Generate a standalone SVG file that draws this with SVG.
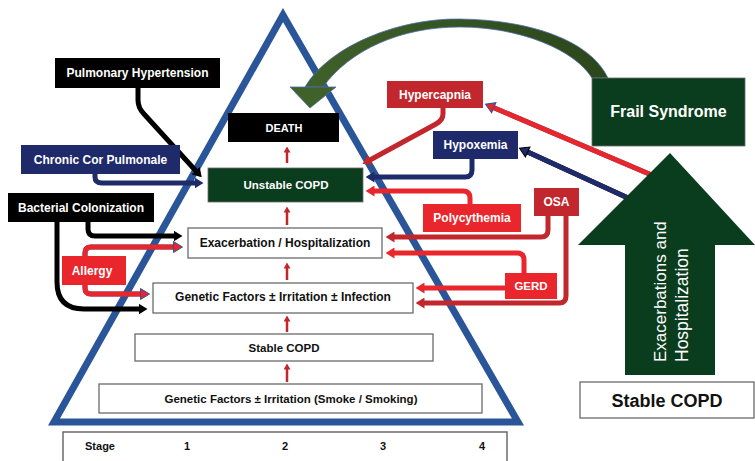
<svg xmlns="http://www.w3.org/2000/svg" width="755" height="461" viewBox="0 0 755 461">
<defs>
<style>
.lbl{font-family:"Liberation Sans",Arial,sans-serif;font-weight:bold;font-size:12px;text-anchor:middle;fill:#fff}
.dk{fill:#111}
.box{fill:#fff;stroke:#6b6b6b;stroke-width:1.3}
.con{fill:none;stroke-width:5;stroke-linejoin:round}
.thin{fill:none;stroke:#c1272d;stroke-width:2.5}
</style>
<linearGradient id="arcg" x1="0" y1="0" x2="1" y2="0">
<stop offset="0" stop-color="#40612a"/>
<stop offset="1" stop-color="#2c461b"/>
</linearGradient>
<marker id="ah-black" viewBox="0 0 9 11" refX="0.5" refY="5.5" markerWidth="9" markerHeight="11" orient="auto" markerUnits="userSpaceOnUse"><path d="M0,0 L9,5.5 L0,11 Z" fill="#000"/></marker>
<marker id="ah-navy" viewBox="0 0 9 11" refX="0.5" refY="5.5" markerWidth="9" markerHeight="11" orient="auto" markerUnits="userSpaceOnUse"><path d="M0,0 L9,5.5 L0,11 Z" fill="#1f2a6b"/></marker>
<marker id="ah-navyk" viewBox="-1 -1 11 13" refX="0.5" refY="5.5" markerWidth="11" markerHeight="13" orient="auto" markerUnits="userSpaceOnUse"><path d="M0,0 L9,5.5 L0,11 Z" fill="#1f2a6b" stroke="#000" stroke-width="1"/></marker>
<marker id="ah-dred" viewBox="0 0 9 11" refX="0.5" refY="5.5" markerWidth="9" markerHeight="11" orient="auto" markerUnits="userSpaceOnUse"><path d="M0,0 L9,5.5 L0,11 Z" fill="#c1272d"/></marker>
<marker id="ah-red" viewBox="0 0 9 11" refX="0.5" refY="5.5" markerWidth="9" markerHeight="11" orient="auto" markerUnits="userSpaceOnUse"><path d="M0,0 L9,5.5 L0,11 Z" fill="#e8262b"/></marker>
<marker id="ah-redb" viewBox="-1 -1 11 13" refX="0.5" refY="5.5" markerWidth="11" markerHeight="13" orient="auto" markerUnits="userSpaceOnUse"><path d="M0,0 L9,5.5 L0,11 Z" fill="#e8262b" stroke="#2a5699" stroke-width="1"/></marker>
<marker id="ah-small" viewBox="0 0 6 7" refX="0.5" refY="3.5" markerWidth="6" markerHeight="7" orient="auto" markerUnits="userSpaceOnUse"><path d="M0,0 L6,3.5 L0,7 Z" fill="#c1272d"/></marker>
</defs>

<g id="pyramid">
<polygon points="283,15 54,422 518,422" fill="none" stroke="#2a5699" stroke-width="7"/>
</g>

<g id="stage-table">
<rect x="63" y="432" width="444" height="40" fill="#fff" stroke="#6b6b6b" stroke-width="1.5"/>
<text class="lbl dk" x="100" y="450" style="font-size:11px">Stage</text>
<text class="lbl dk" x="187" y="450" style="font-size:11px">1</text>
<text class="lbl dk" x="285" y="450" style="font-size:11px">2</text>
<text class="lbl dk" x="383" y="450" style="font-size:11px">3</text>
<text class="lbl dk" x="482" y="450" style="font-size:11px">4</text>
</g>

<g id="frail-arc">
<path d="M305 87 C330 45 400 18 460 19 C530 20 590 40 608 78 L592 78 C575 50 520 27 460 27 C400 27 350 50 323 87 Z" fill="url(#arcg)" stroke="#4a6fb0" stroke-width="0.8"/>
<polygon points="290,87 336,87 310,108" fill="#40612a" stroke="#4a6fb0" stroke-width="0.8"/>
</g>

<g id="connectors">
<path class="con" d="M138 88 V100 Q138 108 144 114 L196 171" stroke="#000" marker-end="url(#ah-black)"/>
<path class="con" d="M95 174 V177 Q95 183 102 183 H195" stroke="#1f2a6b" marker-end="url(#ah-navy)"/>
<path class="con" d="M88 222 V229 Q88 236 95 236 H174" stroke="#000" marker-end="url(#ah-black)"/>
<path class="con" d="M57 222 V282 Q57 309 84 309 H139" stroke="#000" marker-end="url(#ah-black)"/>
<path class="con" d="M85 256 V253 Q85 247 91 247 H174" stroke="#2a5699" stroke-width="6.5"/>
<path class="con" d="M85 256 V253 Q85 247 91 247 H174" stroke="#e8262b" stroke-width="4.5" marker-end="url(#ah-redb)"/>
<path class="con" d="M85 285 V288 Q85 294 91 294 H141" stroke="#2a5699" stroke-width="6.5"/>
<path class="con" d="M85 285 V288 Q85 294 91 294 H141" stroke="#e8262b" stroke-width="4.5" marker-end="url(#ah-redb)"/>
<path class="con" d="M443 108 V114 Q443 120 436 124 L370 160" stroke="#c1272d" marker-end="url(#ah-dred)"/>
<path class="con" d="M472 159 V170 Q472 177 465 177 H374" stroke="#1f2a6b" marker-end="url(#ah-navy)"/>
<path class="con" d="M470 204 V198 Q470 191 463 191 H374" stroke="#e8262b" marker-end="url(#ah-red)"/>
<path class="con" d="M548 216 V230 Q548 237 541 237 H394" stroke="#c1272d" marker-end="url(#ah-dred)"/>
<path class="con" d="M566 216 V296 Q566 303 559 303 H424" stroke="#c1272d" marker-end="url(#ah-dred)"/>
<path class="con" d="M524 273 V260 Q524 253 517 253 H394" stroke="#e8262b" marker-end="url(#ah-red)"/>
<path class="con" d="M505 288 H424" stroke="#e8262b" marker-end="url(#ah-red)"/>
<path class="con" d="M668 182 L493.3 107.5" stroke="#2a5699" stroke-width="7"/>
<path class="con" d="M668 182 L493.3 107.5" stroke="#e8262b" stroke-width="5" marker-end="url(#ah-redb)"/>
<path class="con" d="M640 203.5 L527.2 151.8" stroke="#000" stroke-width="7"/>
<path class="con" d="M640 203.5 L527.2 151.8" stroke="#1f2a6b" stroke-width="5" marker-end="url(#ah-navyk)"/>
<path class="thin" d="M287 382 V369" marker-end="url(#ah-small)"/>
<path class="thin" d="M287 332 V321" marker-end="url(#ah-small)"/>
<path class="thin" d="M287 280 V268" marker-end="url(#ah-small)"/>
<path class="thin" d="M287 225 V212" marker-end="url(#ah-small)"/>
<path class="thin" d="M287 163 V152" marker-end="url(#ah-small)"/>
</g>

<g id="death"><rect x="228" y="113" width="111" height="29" fill="#000"/><text class="lbl" x="284" y="131.5" style="font-size:11px">DEATH</text></g>
<g id="unstable-copd"><rect x="208" y="168" width="155" height="34" fill="#0a3c1e" stroke="#6b6b6b" stroke-width="0.8"/><text class="lbl" x="286" y="189" style="font-size:11.5px">Unstable COPD</text></g>
<g id="exacerbation"><rect class="box" x="188" y="228" width="194" height="30"/><text class="lbl dk" x="285" y="247">Exacerbation / Hospitalization</text></g>
<g id="genetic-infection"><rect class="box" x="153" y="283" width="260" height="30"/><text class="lbl dk" x="283" y="301">Genetic Factors ± Irritation ± Infection</text></g>
<g id="stable-copd"><rect class="box" x="135" y="334" width="298" height="27"/><text class="lbl dk" x="284" y="352" style="font-size:11.5px">Stable COPD</text></g>
<g id="genetic-smoke"><rect class="box" x="99" y="384" width="383" height="29"/><text class="lbl dk" x="291" y="403" style="font-size:11.5px">Genetic Factors ± Irritation (Smoke / Smoking)</text></g>

<g id="pulmonary-hypertension"><rect x="55" y="58" width="165" height="30" fill="#000"/><text class="lbl" x="137.5" y="77">Pulmonary Hypertension</text></g>
<g id="chronic-cor-pulmonale"><rect x="21" y="145" width="159" height="29" fill="#1f2a6b"/><text class="lbl" x="100.5" y="164">Chronic Cor Pulmonale</text></g>
<g id="bacterial-colonization"><rect x="8" y="193" width="146" height="29" fill="#000"/><text class="lbl" x="81" y="212">Bacterial Colonization</text></g>
<g id="allergy"><rect x="62" y="256" width="64" height="29" fill="#e8262b"/><text class="lbl" x="92" y="275">Allergy</text></g>

<g id="hypercapnia"><rect x="387" y="81" width="96" height="27" fill="#c1272d"/><text class="lbl" x="435" y="99">Hypercapnia</text></g>
<g id="hypoxemia"><rect x="433" y="131" width="85" height="28" fill="#1f2a6b"/><text class="lbl" x="475.5" y="149">Hypoxemia</text></g>
<g id="polycythemia"><rect x="423" y="204" width="98" height="28" fill="#e8262b"/><text class="lbl" x="472" y="222">Polycythemia</text></g>
<g id="osa"><rect x="534" y="188" width="45" height="28" fill="#c1272d"/><text class="lbl" x="556.5" y="206">OSA</text></g>
<g id="gerd"><rect x="505" y="273" width="52" height="26" fill="#e8262b"/><text class="lbl" x="531" y="290" style="font-size:11.5px">GERD</text></g>

<g id="frail-syndrome"><rect x="592" y="78" width="153" height="68" fill="#0a3c1e" stroke="#6b6b6b" stroke-width="0.8"/><text class="lbl" x="668.5" y="117" style="font-size:16px">Frail Syndrome</text></g>
<g id="exacerbations-arrow">
<polygon points="670,153 755,245 715,245 715,375 625,375 625,245 578,245" fill="#0a3c1e"/>
<text transform="rotate(-90)" x="-362" y="666" style="font-family:'Liberation Sans',Arial,sans-serif;font-size:17px;fill:#fff">Exacerbations and</text>
<text transform="rotate(-90)" x="-362" y="688" style="font-family:'Liberation Sans',Arial,sans-serif;font-size:17.5px;fill:#fff">Hospitalization</text>
</g>
<g id="stable-copd-right"><rect class="box" x="580" y="382" width="174" height="36"/><text class="lbl dk" x="667" y="407" style="font-size:18px">Stable COPD</text></g>
</svg>
